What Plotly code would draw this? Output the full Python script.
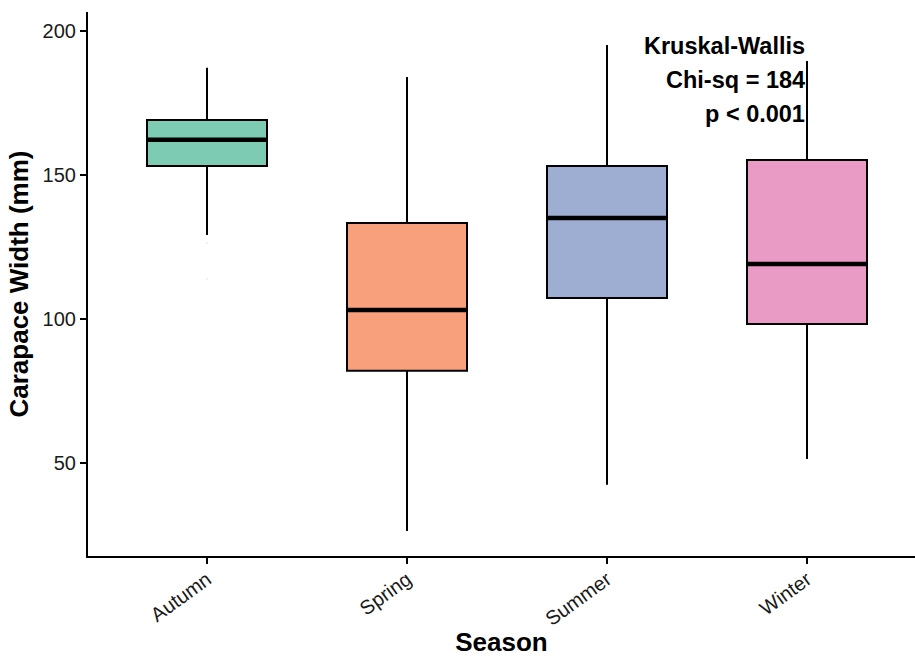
import plotly.graph_objects as go

# Summary statistics of carapace width (mm) per season
seasons = ["Autumn", "Spring", "Summer", "Winter"]
lower_whisker = [129.2, 26.4, 42.4, 51.4]
q1 = [153.1, 82.0, 107.3, 98.3]
median = [162.2, 103.1, 135.1, 119.1]
q3 = [169.1, 133.3, 153.1, 155.2]
upper_whisker = [187.2, 184.0, 195.1, 189.6]

# Faint outlying observations (Autumn only)
outlier_season = ["Autumn", "Autumn"]
outlier_values = [126.4, 113.9]

test_lines = ["Kruskal-Wallis", "Chi-sq = 184", "p < 0.001"]
test_line_y = [194.8, 183.0, 171.2]

fills = ["#7DCBB2", "#F8A07B", "#9EAED3", "#E99BC6"]
box_width = 0.6
font_family = "Liberation Sans, Arial, sans-serif"

fig = go.Figure()

for i, s in enumerate(seasons):
    fig.add_trace(go.Box(
        x=[s],
        q1=[q1[i]],
        median=[median[i]],
        q3=[q3[i]],
        lowerfence=[lower_whisker[i]],
        upperfence=[upper_whisker[i]],
        width=box_width,
        whiskerwidth=0,
        fillcolor=fills[i],
        line=dict(color="black", width=2),
        boxpoints=False,
        showlegend=False,
        hoverinfo="skip",
    ))
    # heavier median bar
    fig.add_shape(
        type="line", xref="x", yref="y",
        x0=i - box_width / 2, x1=i + box_width / 2,
        y0=median[i], y1=median[i],
        line=dict(color="black", width=4.5),
        layer="above",
    )

fig.add_trace(go.Scatter(
    x=outlier_season, y=outlier_values, mode="markers",
    marker=dict(size=2, color="rgba(0,0,0,0.08)"),
    showlegend=False, hoverinfo="skip",
))

for txt, yv in zip(test_lines, test_line_y):
    fig.add_annotation(
        x=len(seasons) - 1, y=yv, xref="x", yref="y",
        text=f"<b>{txt}</b>", showarrow=False,
        xanchor="right", yanchor="middle",
        font=dict(family=font_family, size=23.5, color="black"),
    )

fig.update_layout(
    width=915, height=657,
    margin=dict(l=88, r=0, t=12, b=101),
    paper_bgcolor="white", plot_bgcolor="white",
    font=dict(family=font_family, color="black"),
)

fig.update_xaxes(
    type="category",
    categoryorder="array", categoryarray=seasons,
    range=[-0.595, 3.54],
    showline=True, linecolor="black", linewidth=2.2,
    ticks="outside", ticklen=6, tickwidth=2, tickcolor="black",
    tickangle=-36,
    ticklabelstandoff=-4,
    tickfont=dict(size=20, color="#1a1a1a"),
    showgrid=False, zeroline=False,
    title=dict(text="<b>Season</b>", font=dict(size=26), standoff=8),
)

fig.update_yaxes(
    range=[17.7, 206.6],
    tickvals=[50, 100, 150, 200],
    showline=True, linecolor="black", linewidth=2.2,
    ticks="outside", ticklen=6, tickwidth=2, tickcolor="black",
    tickfont=dict(size=20, color="#1a1a1a"),
    showgrid=False, zeroline=False,
    title=dict(text="<b>Carapace Width (mm)</b>", font=dict(size=26), standoff=6),
)

fig.write_html("out.html")
